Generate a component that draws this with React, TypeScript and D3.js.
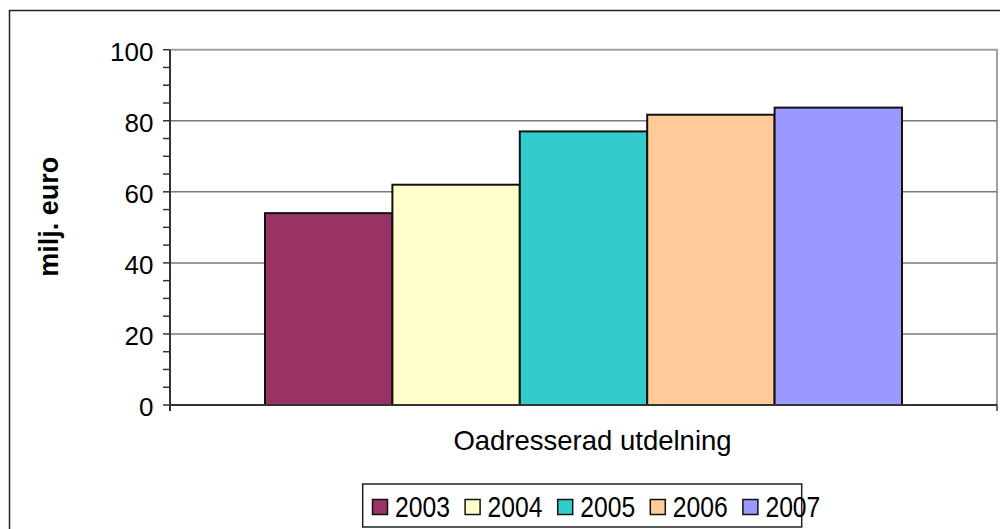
import React from "react";
import * as d3 from "d3";

const categories = ["Oadresserad utdelning"];
const seriesNames = ["2003", "2004", "2005", "2006", "2007"];
const seriesValues = [54, 62, 77, 81.7, 83.7];
const seriesColors = ["#993366", "#FFFFCC", "#33CCCC", "#FFCC99", "#9999FF"];
const yMajorTicks = [0, 20, 40, 60, 80, 100];
const yMinorTicks = d3.range(0, 101, 5);

const FONT = "'Liberation Sans', Arial, Helvetica, sans-serif";

export default function App() {
  const W = 1000, H = 529;
  const left = 170, right = 997, top = 49.7, bottom = 405;
  const y = d3.scaleLinear().domain([0, 100]).range([bottom, top]);
  const x0 = d3.scaleBand().domain(categories).range([left, right]).paddingInner(0).paddingOuter(0);
  const groupW = 637;
  const x1 = d3.scaleBand().domain(seriesNames).range([0, groupW]).padding(0);
  const catX = (c: string) => (x0(c) as number) + (x0.bandwidth() - groupW) / 2;

  const legX = 362.7, legY = 484, legW = 439, legH = 43;
  const legItem = d3.scaleBand().domain(seriesNames).range([372, 372 + 92.6 * 5]);

  return (
    <svg width={W} height={H} style={{ position: "absolute", left: 0, top: 0, background: "#fff" }}>
      <rect x={0} y={0} width={W} height={H} fill="#fff" />
      {/* outer chart border */}
      <path d={`M9.5,${H + 5} V10.5 H${W + 5}`} fill="none" stroke="#222" strokeWidth={1.5} />
      {/* plot area border (top, right) */}
      <path d={`M${left},${top} H${right} V${bottom}`} fill="none" stroke="#a0a0a0" strokeWidth={2} />
      {/* gridlines */}
      {yMajorTicks.filter(t => t > 0 && t < 100).map(t => (
        <line key={t} x1={left} x2={right} y1={y(t)} y2={y(t)} stroke="#7a7a7a" strokeWidth={1.5} />
      ))}
      {/* bars */}
      {categories.map(c => (
        <g key={c} transform={`translate(${catX(c)},0)`}>
          {seriesNames.map((s, i) => (
            <rect key={s} x={x1(s) as number} y={y(seriesValues[i])} width={x1.bandwidth()}
              height={y(0) - y(seriesValues[i])} fill={seriesColors[i]} stroke="#111" strokeWidth={2} />
          ))}
        </g>
      ))}
      {/* y axis */}
      <line x1={left} x2={left} y1={top} y2={bottom + 6} stroke="#333" strokeWidth={2} />
      {yMinorTicks.map(t => (
        <line key={t} x1={left - 7} x2={left} y1={y(t)} y2={y(t)} stroke="#333" strokeWidth={1.5} />
      ))}
      {yMajorTicks.map(t => (
        <text key={t} x={153.5} y={y(t) + 11} textAnchor="end" fontFamily={FONT} fontSize={26} fill="#000">{t}</text>
      ))}
      {/* x axis */}
      <line x1={left} x2={right} y1={bottom} y2={bottom} stroke="#333" strokeWidth={2} />
      {[left, right].map(v => (
        <line key={v} x1={v} x2={v} y1={bottom} y2={bottom + 6} stroke="#333" strokeWidth={1.5} />
      ))}
      {categories.map(c => (
        <text key={c} x={(x0(c) as number) + x0.bandwidth() / 2 + 9} y={450} textAnchor="middle" fontFamily={FONT} fontSize={27.5} fill="#000">{c}</text>
      ))}
      {/* y axis title */}
      <text transform={`translate(58,216.7) rotate(-90)`} textAnchor="middle" fontFamily={FONT} fontSize={27} fontWeight="bold" fill="#000">milj. euro</text>
      {/* legend */}
      <rect x={legX} y={legY} width={legW} height={legH} fill="#fff" stroke="#222" strokeWidth={1.5} />
      {seriesNames.map((s, i) => {
        const lx = legItem(s) as number;
        return (
          <g key={s}>
            <rect x={lx + 0.5} y={499.5} width={15} height={15} fill={seriesColors[i]} stroke="#111" strokeWidth={1.5} />
            <text transform={`translate(${lx + 23},517) scale(1,1.2)`} fontFamily={FONT} fontSize={24.7} fill="#000">{s}</text>
          </g>
        );
      })}
    </svg>
  );
}
